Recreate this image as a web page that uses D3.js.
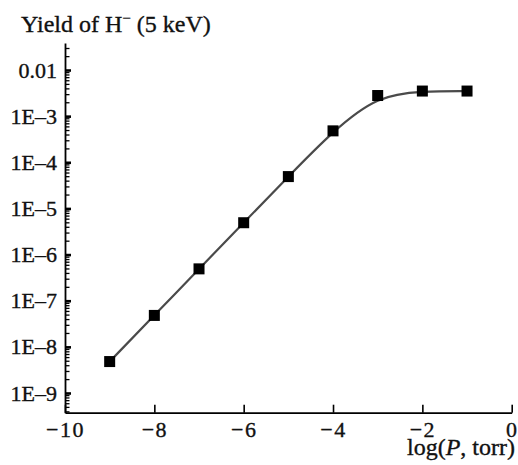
<!DOCTYPE html>
<html>
<head>
<meta charset="utf-8">
<script src="https://cdn.jsdelivr.net/npm/d3@7"></script>
<style>
  html, body { margin: 0; padding: 0; background: #fff; }
  svg { display: block; font-family: "Liberation Serif", "DejaVu Serif", serif; }
  .axis path, .axis line { stroke: #000; }
  .axis text, .label { fill: #111; stroke: #111; stroke-width: 0.35; }
</style>
</head>
<body>
<svg id="chart" width="518" height="465"></svg>
<script>
// Pressure (log10 of P in torr) and measured H⁻ yield at 5 keV
const logPressure = [-9, -8, -7, -6, -5, -4, -3, -2, -1];
const yieldValues = [4.8e-9, 4.8e-8, 4.9e-7, 4.9e-6, 4.9e-5, 4.8e-4, 2.8e-3, 3.5e-3, 3.5e-3];

// Axis ticks and labels
const xTicks = [-10, -8, -6, -4, -2, 0];
const xTickLabels = ["\u221210", "\u22128", "\u22126", "\u22124", "\u22122", "0"];
const yMajorTicks = [1e-9, 1e-8, 1e-7, 1e-6, 1e-5, 1e-4, 1e-3, 1e-2];
const yTickLabels = ["1E\u20139", "1E\u20138", "1E\u20137", "1E\u20136", "1E\u20135", "1E\u20134", "1E\u20133", "0.01"];
const yDomain = [3.74e-10, 0.0385];

const svg = d3.select("#chart");
const plotLeft = 65, plotRight = 511.7, plotTop = 43, plotBottom = 412.7;

const x = d3.scaleLinear().domain([-10, 0]).range([plotLeft, plotRight]);
const y = d3.scaleLog().domain(yDomain).range([plotBottom, plotTop]);

// minor ticks: 2..9 times each decade, kept inside the domain
const yMinorTicks = [];
for (let e = -10; e <= -2; e++) {
  for (let k = 2; k <= 9; k++) {
    const v = k * Math.pow(10, e);
    if (v >= yDomain[0] && v <= yDomain[1]) yMinorTicks.push(v);
  }
}

// x axis, ticks pointing inward
const xAxis = svg.append("g")
  .attr("class", "axis")
  .attr("transform", `translate(0,${plotBottom})`)
  .call(d3.axisBottom(x)
    .tickValues(xTicks)
    .tickFormat((d, i) => xTickLabels[i])
    .tickSizeInner(-8).tickSizeOuter(0).tickPadding(9));
xAxis.select(".domain").attr("stroke-width", 1.8);
xAxis.selectAll(".tick line").attr("stroke-width", 1.6);
xAxis.selectAll("text")
  .attr("font-size", 22)
  .attr("letter-spacing", 1.5)
  .attr("font-family", "Liberation Serif");

// y axis: minor ticks
const yMinor = svg.append("g")
  .attr("class", "axis")
  .attr("transform", `translate(${plotLeft},0)`)
  .call(d3.axisLeft(y)
    .tickValues(yMinorTicks)
    .tickFormat("")
    .tickSizeInner(-4.5).tickSizeOuter(0));
yMinor.select(".domain").attr("stroke-width", 1.8);
yMinor.selectAll(".tick line").attr("stroke-width", 1.3);

// y axis: decades with labels
const yMajor = svg.append("g")
  .attr("class", "axis")
  .attr("transform", `translate(${plotLeft},0)`)
  .call(d3.axisLeft(y)
    .tickValues(yMajorTicks)
    .tickFormat((d, i) => yTickLabels[i])
    .tickSizeInner(-6).tickSizeOuter(0).tickPadding(8));
yMajor.select(".domain").remove();
yMajor.selectAll(".tick line").attr("stroke-width", 2.6);
yMajor.selectAll("text").attr("font-size", 22).attr("font-family", "Liberation Serif");

// fitted curve through the measurements
const line = d3.line()
  .x((d, i) => x(logPressure[i]))
  .y(d => y(d))
  .curve(d3.curveBasis);

svg.append("path")
  .datum(yieldValues)
  .attr("d", line)
  .attr("fill", "none")
  .attr("stroke", "#4a4a4a")
  .attr("stroke-width", 2.2);

// data markers
const sq = 11;
svg.append("g").selectAll("rect")
  .data(yieldValues)
  .join("rect")
  .attr("x", (d, i) => x(logPressure[i]) - sq / 2)
  .attr("y", d => y(d) - sq / 2)
  .attr("width", sq)
  .attr("height", sq)
  .attr("fill", "#000");

// axis titles
const title = svg.append("text")
  .attr("class", "label")
  .attr("x", 21).attr("y", 32)
  .attr("font-size", 24);
title.append("tspan").text("Yield of H");
title.append("tspan").attr("font-size", 15).attr("dy", -9).text("\u2212");
title.append("tspan").attr("dy", 9).text(" (5 keV)");

const xTitle = svg.append("text")
  .attr("class", "label")
  .attr("x", 515).attr("y", 455)
  .attr("text-anchor", "end")
  .attr("font-size", 24);
xTitle.append("tspan").text("log(");
xTitle.append("tspan").attr("font-style", "italic").text("P");
xTitle.append("tspan").text(", torr)");
</script>
</body>
</html>
